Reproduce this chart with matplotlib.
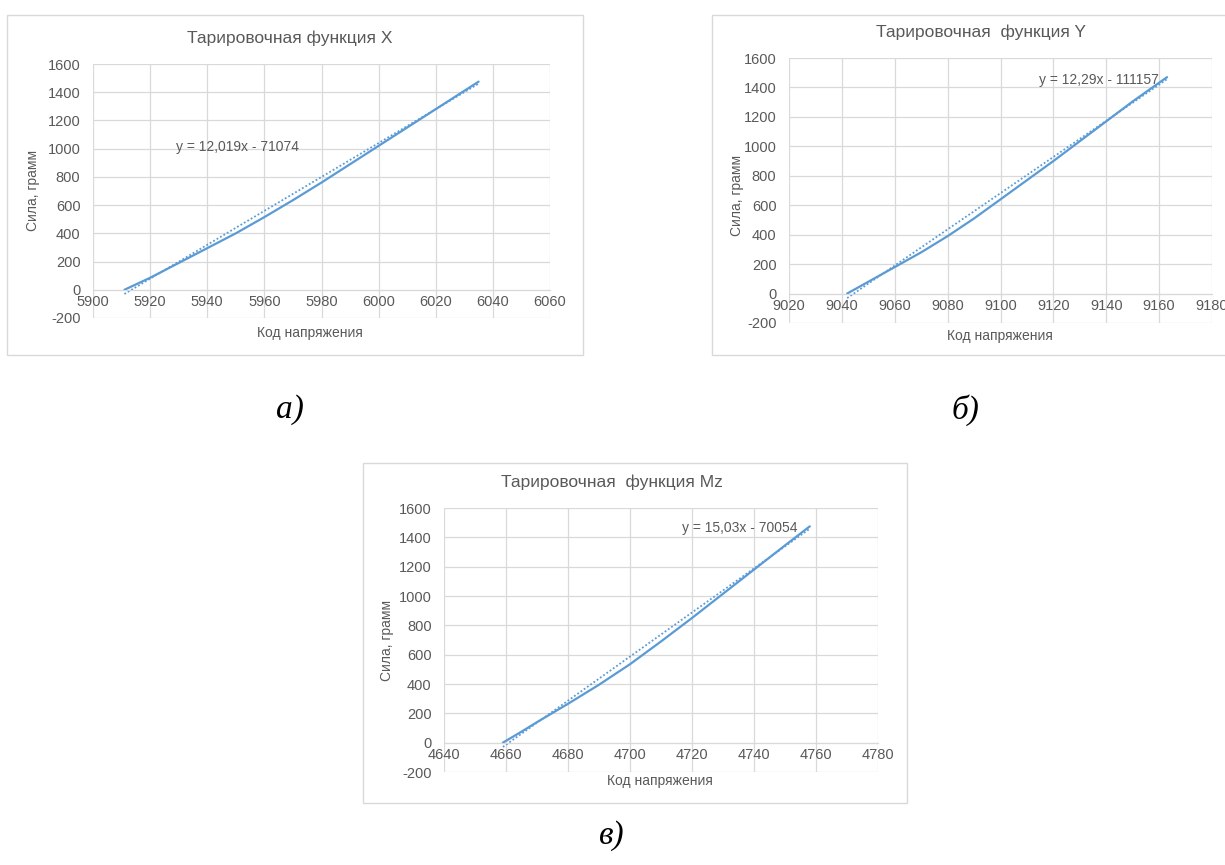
import numpy as np
import matplotlib
matplotlib.use("Agg")
import matplotlib.pyplot as plt
from matplotlib.patches import Rectangle

plt.rcParams['font.family'] = ['Liberation Sans', 'DejaVu Sans']
plt.rcParams['axes.unicode_minus'] = False

# --- data ---
code_x = [5911, 5920, 5930, 5940, 5950, 5960, 5970, 5980, 5990, 6000, 6010, 6020, 6035]
force_x = [0, 85, 190, 295, 400, 515, 635, 760, 890, 1020, 1150, 1280, 1475]
fit_x = (12.019, -71074)
eq_x = "y = 12,019x - 71074"
xticks_x = [5900, 5920, 5940, 5960, 5980, 6000, 6020, 6040, 6060]

code_y = [9042, 9050, 9060, 9070, 9080, 9090, 9100, 9110, 9120, 9130, 9140, 9150, 9163]
force_y = [0, 80, 180, 280, 390, 510, 640, 770, 900, 1035, 1170, 1305, 1470]
fit_y = (12.29, -111157)
eq_y = "y = 12,29x - 111157"
xticks_y = [9020, 9040, 9060, 9080, 9100, 9120, 9140, 9160, 9180]

code_mz = [4659, 4665, 4670, 4680, 4690, 4700, 4710, 4720, 4730, 4740, 4750, 4758]
force_mz = [0, 75, 140, 265, 395, 535, 690, 850, 1015, 1180, 1345, 1475]
fit_mz = (15.03, -70054)
eq_mz = "y = 15,03x - 70054"
xticks_mz = [4640, 4660, 4680, 4700, 4720, 4740, 4760, 4780]

yticks = [-200, 0, 200, 400, 600, 800, 1000, 1200, 1400, 1600]

W, H = 1225, 865
BLUE = '#5B9BD5'
GRID = '#D9D9D9'
TXT = '#595959'

fig = plt.figure(figsize=(W / 100, H / 100), dpi=100)


def box(x0, y0, x1, y1):
    return [x0 / W, 1 - y1 / H, (x1 - x0) / W, (y1 - y0) / H]


def frame(x0, y0, x1, y1):
    fig.patches.append(Rectangle((x0 / W, 1 - y1 / H), (x1 - x0) / W, (y1 - y0) / H,
                                 transform=fig.transFigure, fill=False,
                                 edgecolor=GRID, lw=1.0))


def chart(plot_px, frame_px, title, title_xy, ylab_xy, xlab_xy,
          xs, ys, fit, eq, eq_pos, eq_ha, xticks):
    frame(*frame_px)
    ax = fig.add_axes(box(*plot_px))
    ax.plot(xs, ys, color=BLUE, lw=1.6, solid_capstyle='round')
    tx = np.array([xs[0], xs[-1]], dtype=float)
    ax.plot(tx, fit[0] * tx + fit[1], color=BLUE, lw=1.3, ls=(0, (1, 1.2)))
    ax.set_xlim(xticks[0], xticks[-1])
    ax.set_ylim(-200, 1600)
    ax.set_xticks(xticks)
    ax.set_yticks(yticks)
    ax.grid(True, color=GRID, lw=0.9)
    ax.set_axisbelow(True)
    for s in ['top', 'right', 'left']:
        ax.spines[s].set_visible(False)
    ax.spines['bottom'].set_position(('data', 0))
    ax.spines['bottom'].set_color(GRID)
    ax.tick_params(length=0, labelsize=10.5, colors=TXT)
    ax.tick_params(axis='x', pad=4)
    ax.tick_params(axis='y', pad=9)
    ax.text(eq_pos[0], eq_pos[1], eq, fontsize=10, color=TXT, ha=eq_ha, va='center')
    fig.text(title_xy[0] / W, 1 - title_xy[1] / H, title, fontsize=12.5,
             color=TXT, ha='center', va='center')
    fig.text(ylab_xy[0] / W, 1 - ylab_xy[1] / H, 'Сила, грамм', fontsize=10,
             color=TXT, ha='center', va='center', rotation=90)
    fig.text(xlab_xy[0] / W, 1 - xlab_xy[1] / H, 'Код напряжения', fontsize=10,
             color=TXT, ha='center', va='center')
    return ax


chart((93, 64, 550, 318), (7, 15, 583, 355), 'Тарировочная функция X', (290, 38),
      (33, 190), (310, 333), code_x, force_x, fit_x, eq_x, (5929, 1010), 'left', xticks_x)

chart((789, 58, 1212, 323), (712, 15, 1226, 355), 'Тарировочная  функция Y', (981, 32),
      (737, 195), (1000, 336), code_y, force_y, fit_y, eq_y, (9160, 1450), 'right', xticks_y)

chart((444, 508, 878, 772), (363, 463, 907, 803), 'Тарировочная  функция Mz', (612, 482),
      (387, 640), (660, 781), code_mz, force_mz, fit_mz, eq_mz, (4754, 1465), 'right', xticks_mz)

for lab, x, y in [('а)', 290, 410), ('б)', 965, 410), ('в)', 612, 836)]:
    fig.text(x / W, 1 - y / H, lab, fontsize=24, style='italic',
             family=['Liberation Serif', 'DejaVu Serif'], ha='center', va='center')

fig.savefig('out.png', dpi=100)
